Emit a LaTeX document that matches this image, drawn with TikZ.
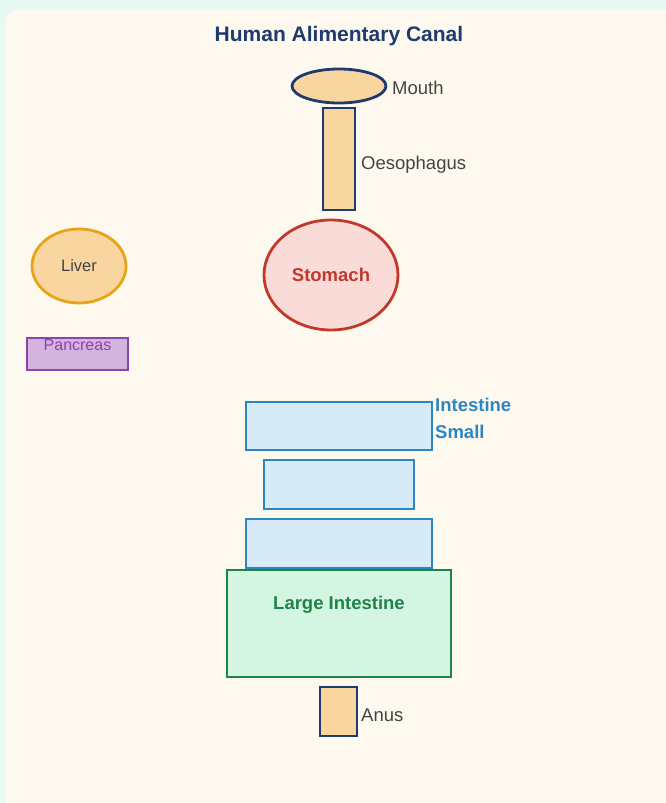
\documentclass[tikz,border=0pt]{standalone}
\usepackage{fontspec}
\setmainfont{Liberation Sans}
\usetikzlibrary{shapes.geometric}

\begin{document}
\begin{tikzpicture}[
    x=1pt, y=-1pt,
    font=\fontsize{18.5}{21}\selectfont,
    organ/.style={draw, line width=2.8pt, inner sep=0pt},
    oval/.style={organ, ellipse},
    tube/.style={organ, rectangle},
    tag/.style={anchor=west, text=labelgrey, inner sep=0pt}
]

% Colours: panel, tract parts, glands
\definecolor{mintbg}{RGB}{232, 248, 245}
\definecolor{panelbg}{RGB}{254, 249, 239}
\definecolor{navy}{RGB}{31, 58, 110}
\definecolor{labelgrey}{RGB}{68, 68, 68}
\definecolor{peach}{RGB}{249, 213, 160}
\definecolor{stomachfill}{RGB}{250, 219, 216}
\definecolor{stomachline}{RGB}{192, 57, 43}
\definecolor{liverline}{RGB}{232, 163, 23}
\definecolor{pancfill}{RGB}{210, 180, 222}
\definecolor{pancline}{RGB}{142, 68, 173}
\definecolor{smallfill}{RGB}{214, 234, 248}
\definecolor{smallline}{RGB}{46, 134, 193}
\definecolor{largefill}{RGB}{213, 245, 227}
\definecolor{largeline}{RGB}{30, 132, 73}

% Background
\useasboundingbox (0,0) rectangle (666,803);
\fill[mintbg] (0,0) rectangle (666,803);
\fill[panelbg, rounded corners=14pt] (5,10) rectangle (690,830);

% Title
\node[font=\fontsize{21}{24}\selectfont\bfseries, text=navy] (title) at (339,36) {Human Alimentary Canal};

% Mouth and oesophagus
\node[oval, fill=peach, draw=navy, minimum width=94, minimum height=34] (mouth) at (339,86) {};
\node[tag] (mouthtxt) at (392,88) {Mouth};
\node[tube, fill=peach, draw=navy, minimum width=32, minimum height=102] (oeso) at (339,159) {};
\node[tag] (oesotxt) at (361,165) {Oesophagus};

% Stomach
\node[oval, fill=stomachfill, draw=stomachline, minimum width=134, minimum height=110,
      text=stomachline, font=\fontsize{18.5}{21}\selectfont\bfseries] (stomach) at (331,275) {Stomach};

% Glands
\node[oval, fill=peach, draw=liverline, minimum width=94, minimum height=74,
      text=labelgrey, font=\fontsize{16.5}{19}\selectfont] (liver) at (79,266) {Liver};
\node[tube, fill=pancfill, draw=pancline, minimum width=101, minimum height=32] (pancreas) at (77.5,354) {};
\node[text=pancline, inner sep=0pt, font=\fontsize{16}{19}\selectfont] (panctxt) at (77.5,345) {Pancreas};

% Small intestine coils
\node[tube, fill=smallfill, draw=smallline, minimum width=186, minimum height=48] (small1) at (339,426) {};
\node[tube, fill=smallfill, draw=smallline, minimum width=150, minimum height=49] (small2) at (339,484.5) {};
\node[tube, fill=smallfill, draw=smallline, minimum width=186, minimum height=49] (small3) at (339,543.5) {};
\node[tag, text=smallline, font=\fontsize{18.5}{21}\selectfont\bfseries] (smalltxt1) at (435,405) {Intestine};
\node[tag, text=smallline, font=\fontsize{18.5}{21}\selectfont\bfseries] (smalltxt2) at (435,432) {Small};

% Large intestine
\node[tube, fill=largefill, draw=largeline, minimum width=224, minimum height=107] (large) at (339,623.5) {};
\node[text=largeline, font=\fontsize{18.5}{21}\selectfont\bfseries] (largetxt) at (339,605) {Large Intestine};

% Anus
\node[tube, fill=peach, draw=navy, minimum width=37, minimum height=49] (anus) at (338.5,711.5) {};
\node[tag] (anustxt) at (361,715) {Anus};

\end{tikzpicture}
\end{document}
